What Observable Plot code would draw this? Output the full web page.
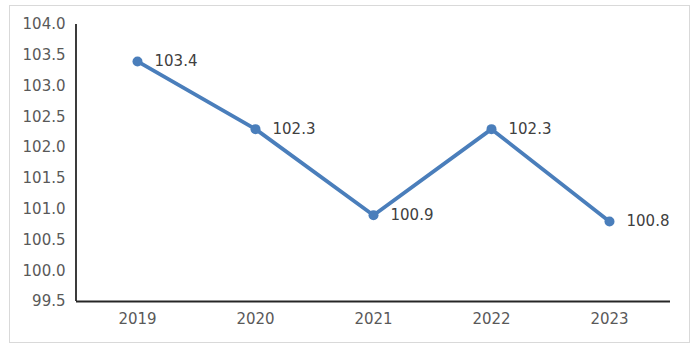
<!DOCTYPE html>
<html><head><meta charset="utf-8">
<script src="https://cdn.jsdelivr.net/npm/d3@7"></script>
<script src="https://cdn.jsdelivr.net/npm/@observablehq/plot@0.6"></script>
<style>
body{margin:0;background:#fff;}
#chart{width:700px;height:351px;}
</style></head>
<body><div id="chart"></div>
<script>
const years = ["2019","2020","2021","2022","2023"];
const values = [103.4, 102.3, 100.9, 102.3, 100.8];
const yTicks = [99.5,100,100.5,101,101.5,102,102.5,103,103.5,104];

const data = years.map((y,i)=>({year:y, value:values[i]}));

const chart = Plot.plot({
  width: 700, height: 351,
  marginLeft: 76, marginRight: 30, marginTop: 24, marginBottom: 50,
  style: {fontFamily: "DejaVu Sans", fontSize: "15px", color: "#595959", background: "#fff"},
  x: {type: "point", domain: years, padding: 0.5, label: null, tickSize: 0, tickPadding: 12},
  y: {domain: [99.5, 104], ticks: yTicks, tickFormat: d => d.toFixed(1), label: null, tickSize: 0, tickPadding: 11},
  marks: [
    Plot.ruleY([99.5], {stroke: "#262626", strokeWidth: 1.8}),
    Plot.line(data, {x: "year", y: "value", stroke: "#4a7ebb", strokeWidth: 3.8}),
    Plot.dot(data, {x: "year", y: "value", fill: "#4a7ebb", r: 5}),
    Plot.text(data, {x: "year", y: "value", text: d => d.value.toFixed(1), dx: 17, textAnchor: "start", fill: "#404040", fontSize: 15, fontFamily: "DejaVu Sans"})
  ]
});
document.getElementById("chart").appendChild(chart);

// left axis line and outer border
const svg = d3.select(chart);
const yr = chart.scale("y").range;
svg.insert("line", ":first-child")
  .attr("x1", 76).attr("x2", 76)
  .attr("y1", Math.min(...yr)).attr("y2", Math.max(...yr))
  .attr("stroke", "#262626").attr("stroke-width", 1.8);
svg.insert("rect", ":first-child")
  .attr("x", 9.5).attr("y", 5.5).attr("width", 680).attr("height", 337)
  .attr("fill", "none").attr("stroke", "#d9d9d9");
</script></body></html>
